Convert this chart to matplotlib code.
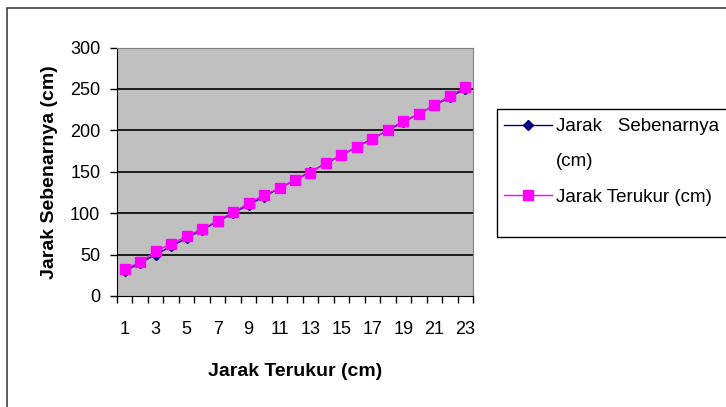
import matplotlib.pyplot as plt
from matplotlib.patches import Rectangle
from matplotlib.lines import Line2D

# Data
kategori = list(range(1, 24))
jarak_sebenarnya = [30, 40, 50, 60, 70, 80, 90, 100, 110, 120, 130, 140,
                    150, 160, 170, 180, 190, 200, 210, 220, 230, 240, 250]
jarak_terukur = [32, 41, 54, 63, 72, 81, 91, 101, 112, 122, 130, 140,
                 149, 161, 170, 180, 189, 201, 211, 220, 230, 242, 252]
label_x = [str(k) if k % 2 == 1 else '' for k in kategori]
yticks = [0, 50, 100, 150, 200, 250, 300]

plt.rcParams['font.family'] = ['Liberation Sans', 'DejaVu Sans']

fig = plt.figure(figsize=(7.26, 4.07), dpi=100)
fig.patch.set_facecolor('white')

# outer chart border (runs past the right and bottom edges)
fig.patches.append(Rectangle((7 / 726, -0.05), 1.0, 1 - 8 / 407 + 0.05,
                             transform=fig.transFigure, fill=False,
                             edgecolor='#404040', linewidth=1.2))

ax = fig.add_axes([117 / 726, 111 / 407, 356 / 726, 248.5 / 407])
ax.set_facecolor('#c0c0c0')

pos = [k - 0.5 for k in kategori]
l1, = ax.plot(pos, jarak_sebenarnya, color='#000080', linewidth=1, marker='D',
              markersize=5, markerfacecolor='#000080', markeredgecolor='#000080',
              zorder=3)
l2, = ax.plot(pos, jarak_terukur, color='#ff00ff', linewidth=1, marker='s',
              markersize=7.2, markerfacecolor='#ff00ff', markeredgecolor='#ff00ff',
              zorder=4)

ax.set_xlim(0, 23)
ax.set_ylim(0, 300)
ax.set_yticks(yticks)
for y in yticks[1:-1]:
    ax.axhline(y, color='black', linewidth=1.2, zorder=1)

# x ticks on category boundaries, labels at category centres
ax.set_xticks(range(0, 24))
ax.set_xticklabels([])
ax.set_xticks(pos, minor=True)
ax.set_xticklabels(label_x, minor=True, fontsize=13)
ax.tick_params(axis='x', which='major', direction='out', length=5, width=1)
ax.tick_params(axis='x', which='minor', length=0, pad=18)
ax.tick_params(axis='y', direction='out', length=5, width=1, labelsize=13, pad=7)

ax.spines['left'].set_color('black')
ax.spines['bottom'].set_color('black')
ax.spines['top'].set_color('#808080')
ax.spines['right'].set_color('#808080')

ax.set_xlabel('Jarak Terukur (cm)', fontsize=14, fontweight='bold', labelpad=18)
ax.set_ylabel('Jarak Sebenarnya (cm)', fontsize=14, fontweight='bold', labelpad=9)

# legend box (open to the right like the reference)
fig.patches.append(Rectangle((497 / 726, 1 - 237 / 407), 0.5, 128 / 407,
                             transform=fig.transFigure, fill=False,
                             edgecolor='black', linewidth=1))
kosong = Line2D([], [], linestyle='none', marker='none')
leg = fig.legend([l1, kosong, l2],
                 ['Jarak   Sebenarnya', '(cm)', 'Jarak Terukur (cm)'],
                 loc='upper left', bbox_to_anchor=(504 / 726, 1 - 118 / 407),
                 frameon=False, fontsize=13.5, handlelength=2.55,
                 borderpad=0, labelspacing=0.97, handletextpad=0.2,
                 borderaxespad=0)

plt.savefig('out.png', dpi=100)
plt.close()
